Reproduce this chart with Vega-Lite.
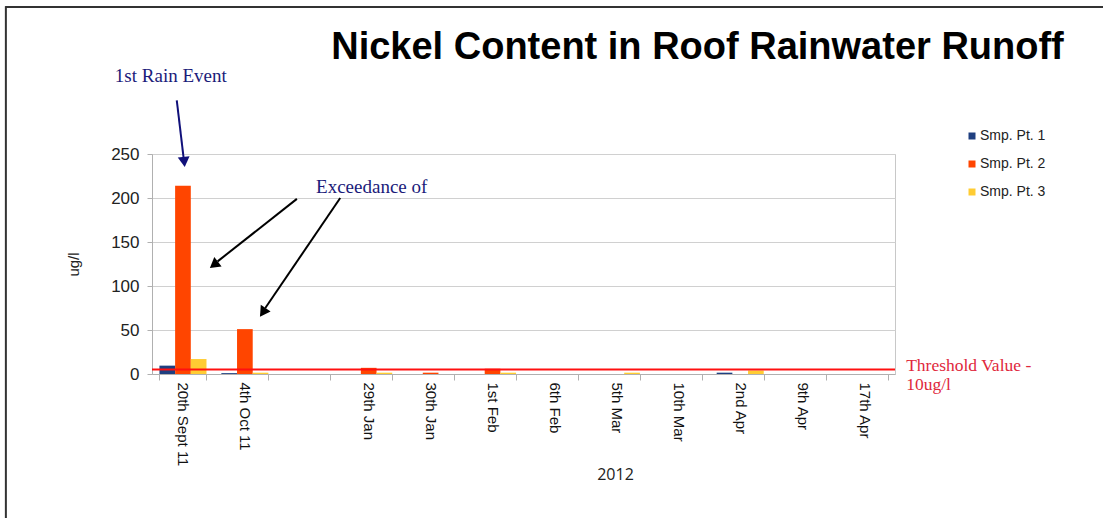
{
  "$schema": "https://vega.github.io/schema/vega-lite/v6.json",
  "width": 743,
  "height": 220,
  "autosize": "none",
  "padding": {"left": 152, "top": 154, "right": 208, "bottom": 144},
  "background": "white",
  "config": {
    "view": {"stroke": "#c8c8c8", "strokeWidth": 1},
    "font": "Liberation Sans"
  },
  "title": {
    "text": "Nickel Content in Roof Rainwater Runoff",
    "font": "Liberation Sans",
    "fontSize": 38,
    "fontWeight": "bold",
    "color": "#000000",
    "anchor": "middle",
    "frame": "group",
    "baseline": "alphabetic",
    "dx": 174,
    "dy": 92,
    "offset": 0
  },
  "resolve": {"scale": {"x": "independent", "color": "independent"}, "axis": {"x": "independent", "y": "independent"}},
  "layer": [
    {
      "data": {"values": [
        {"date": "20th Sept 11", "series": "Smp. Pt. 1", "value": 9.5},
        {"date": "20th Sept 11", "series": "Smp. Pt. 2", "value": 214},
        {"date": "20th Sept 11", "series": "Smp. Pt. 3", "value": 17},
        {"date": "4th Oct 11", "series": "Smp. Pt. 1", "value": 1},
        {"date": "4th Oct 11", "series": "Smp. Pt. 2", "value": 51},
        {"date": "4th Oct 11", "series": "Smp. Pt. 3", "value": 1.5},
        {"date": "29th Jan", "series": "Smp. Pt. 1", "value": 0},
        {"date": "29th Jan", "series": "Smp. Pt. 2", "value": 7},
        {"date": "29th Jan", "series": "Smp. Pt. 3", "value": 1.5},
        {"date": "30th Jan", "series": "Smp. Pt. 1", "value": 0},
        {"date": "30th Jan", "series": "Smp. Pt. 2", "value": 1.5},
        {"date": "30th Jan", "series": "Smp. Pt. 3", "value": 0},
        {"date": "1st Feb", "series": "Smp. Pt. 1", "value": 0},
        {"date": "1st Feb", "series": "Smp. Pt. 2", "value": 6},
        {"date": "1st Feb", "series": "Smp. Pt. 3", "value": 1.5},
        {"date": "6th Feb", "series": "Smp. Pt. 1", "value": 0},
        {"date": "6th Feb", "series": "Smp. Pt. 2", "value": 0},
        {"date": "6th Feb", "series": "Smp. Pt. 3", "value": 0},
        {"date": "5th Mar", "series": "Smp. Pt. 1", "value": 0},
        {"date": "5th Mar", "series": "Smp. Pt. 2", "value": 0},
        {"date": "5th Mar", "series": "Smp. Pt. 3", "value": 1.5},
        {"date": "10th Mar", "series": "Smp. Pt. 1", "value": 0},
        {"date": "10th Mar", "series": "Smp. Pt. 2", "value": 0},
        {"date": "10th Mar", "series": "Smp. Pt. 3", "value": 0},
        {"date": "2nd Apr", "series": "Smp. Pt. 1", "value": 1.5},
        {"date": "2nd Apr", "series": "Smp. Pt. 2", "value": 0},
        {"date": "2nd Apr", "series": "Smp. Pt. 3", "value": 4},
        {"date": "9th Apr", "series": "Smp. Pt. 1", "value": 0},
        {"date": "9th Apr", "series": "Smp. Pt. 2", "value": 0},
        {"date": "9th Apr", "series": "Smp. Pt. 3", "value": 0},
        {"date": "17th Apr", "series": "Smp. Pt. 1", "value": 0},
        {"date": "17th Apr", "series": "Smp. Pt. 2", "value": 0},
        {"date": "17th Apr", "series": "Smp. Pt. 3", "value": 0}
      ]},
      "mark": {"type": "bar"},
      "encoding": {
        "x": {
          "field": "date", "type": "nominal",
          "scale": {
            "domain": ["20th Sept 11", "4th Oct 11", " ", "29th Jan", "30th Jan", "1st Feb", "6th Feb", "5th Mar", "10th Mar", "2nd Apr", "9th Apr", "17th Apr"],
            "paddingInner": 0.24, "paddingOuter": 0.12
          },
          "axis": {
            "title": "2012",
            "titleFont": "Open Sans",
            "titleFontSize": 16,
            "titleFontWeight": "normal",
            "titleColor": "#222222",
            "titleX": 463,
            "titleY": 100,
            "titleBaseline": "middle",
            "titleAlign": "center",
            "labelAngle": 90,
            "labelAlign": "left",
            "labelBaseline": "middle",
            "labelFontSize": 15,
            "labelColor": "#111111",
            "labelPadding": 2,
            "labelFont": "Liberation Sans",
            "tickBand": "extent",
            "tickSize": 6,
            "tickColor": "#b0b0b0",
            "domainColor": "#b0b0b0",
            "grid": false
          }
        },
        "xOffset": {"field": "series", "type": "nominal", "scale": {"paddingInner": 0, "paddingOuter": 0}},
        "y": {
          "field": "value", "type": "quantitative",
          "scale": {"domain": [0, 250], "nice": false},
          "axis": {
            "title": "ug/l",
            "titleFont": "Liberation Sans",
            "titleFontSize": 15,
            "titleFontWeight": "normal",
            "titleColor": "#222222",
            "titlePadding": 29,
            "values": [0, 50, 100, 150, 200, 250],
            "labelFontSize": 17,
            "labelColor": "#222222",
            "labelPadding": 8,
            "tickSize": 5,
            "tickColor": "#b0b0b0",
            "domainColor": "#b0b0b0",
            "gridColor": "#d0d0d0"
          }
        },
        "color": {
          "field": "series", "type": "nominal",
          "scale": {"domain": ["Smp. Pt. 1", "Smp. Pt. 2", "Smp. Pt. 3"], "range": ["#1F3F80", "#FF4500", "#FFCC33"]},
          "legend": {
            "title": null,
            "orient": "none",
            "legendX": 813,
            "legendY": -25,
            "symbolType": "square",
            "symbolSize": 49,
            "symbolStrokeWidth": 0,
            "labelFontSize": 14,
            "labelColor": "#222222",
            "labelFont": "Liberation Sans",
            "rowPadding": 14,
            "labelOffset": 1
          }
        }
      }
    },
    {
      "data": {"values": [{"threshold": 5}]},
      "mark": {"type": "rule", "color": "#FF1010", "strokeWidth": 2},
      "encoding": {
        "y": {"field": "threshold", "type": "quantitative", "scale": {"domain": [0, 250], "nice": false}, "axis": null}
      }
    },
    {
      "data": {"values": [
        {"x": 0.40, "x2": 0.51, "y": 311, "y2": 246, "kind": "navy"},
        {"x": 2.34, "x2": 1.06, "y": 199, "y2": 128, "kind": "black"},
        {"x": 3.04, "x2": 1.83, "y": 200, "y2": 75, "kind": "black"}
      ]},
      "mark": {"type": "rule", "strokeWidth": 2},
      "encoding": {
        "x": {"field": "x", "type": "quantitative", "scale": {"domain": [0, 12], "nice": false, "zero": false}, "axis": null},
        "x2": {"field": "x2"},
        "y": {"field": "y", "type": "quantitative", "scale": {"domain": [0, 250], "nice": false}, "axis": null},
        "y2": {"field": "y2"},
        "color": {"field": "kind", "type": "nominal", "scale": {"domain": ["navy", "black"], "range": ["#10107A", "#000000"]}, "legend": null}
      }
    },
    {
      "data": {"values": [
        {"x": 0.52, "y": 241, "angle": 354, "kind": "navy"},
        {"x": 1.0, "y": 124, "angle": 52, "kind": "black"},
        {"x": 1.79, "y": 70, "angle": 34, "kind": "black"}
      ]},
      "mark": {"type": "point", "shape": "triangle-down", "filled": true, "size": 140, "opacity": 1},
      "encoding": {
        "x": {"field": "x", "type": "quantitative", "scale": {"domain": [0, 12], "nice": false, "zero": false}, "axis": null},
        "y": {"field": "y", "type": "quantitative", "scale": {"domain": [0, 250], "nice": false}, "axis": null},
        "angle": {"field": "angle", "type": "quantitative", "scale": null},
        "color": {"field": "kind", "type": "nominal", "scale": {"domain": ["navy", "black"], "range": ["#10107A", "#000000"]}, "legend": null}
      }
    },
    {
      "data": {"values": [
        {"x": -0.60, "y": 339, "label": "1st Rain Event"},
        {"x": 2.65, "y": 212, "label": "Exceedance of"}
      ]},
      "mark": {"type": "text", "font": "Liberation Serif", "fontSize": 19, "color": "#1B1B7A", "baseline": "middle", "align": "left"},
      "encoding": {
        "x": {"field": "x", "type": "quantitative", "scale": {"domain": [0, 12], "nice": false, "zero": false}, "axis": null},
        "y": {"field": "y", "type": "quantitative", "scale": {"domain": [0, 250], "nice": false}, "axis": null},
        "text": {"field": "label"}
      }
    },
    {
      "data": {"values": [
        {"x": 12.18, "y": 9.5, "label": "Threshold Value -"},
        {"x": 12.18, "y": -12.5, "label": "10ug/l"}
      ]},
      "mark": {"type": "text", "font": "Liberation Serif", "fontSize": 17.5, "color": "#E0283C", "baseline": "middle", "align": "left"},
      "encoding": {
        "x": {"field": "x", "type": "quantitative", "scale": {"domain": [0, 12], "nice": false, "zero": false}, "axis": null},
        "y": {"field": "y", "type": "quantitative", "scale": {"domain": [0, 250], "nice": false}, "axis": null},
        "text": {"field": "label"}
      }
    },
    {
      "data": {"values": [
        {"x": -2.37, "x2": 15.4, "y": 417, "y2": 417},
        {"x": -2.36, "x2": -2.36, "y": 418, "y2": -170}
      ]},
      "mark": {"type": "rule", "strokeWidth": 2, "color": "#333333"},
      "encoding": {
        "x": {"field": "x", "type": "quantitative", "scale": {"domain": [0, 12], "nice": false, "zero": false}, "axis": null},
        "x2": {"field": "x2"},
        "y": {"field": "y", "type": "quantitative", "scale": {"domain": [0, 250], "nice": false}, "axis": null},
        "y2": {"field": "y2"}
      }
    }
  ]
}
